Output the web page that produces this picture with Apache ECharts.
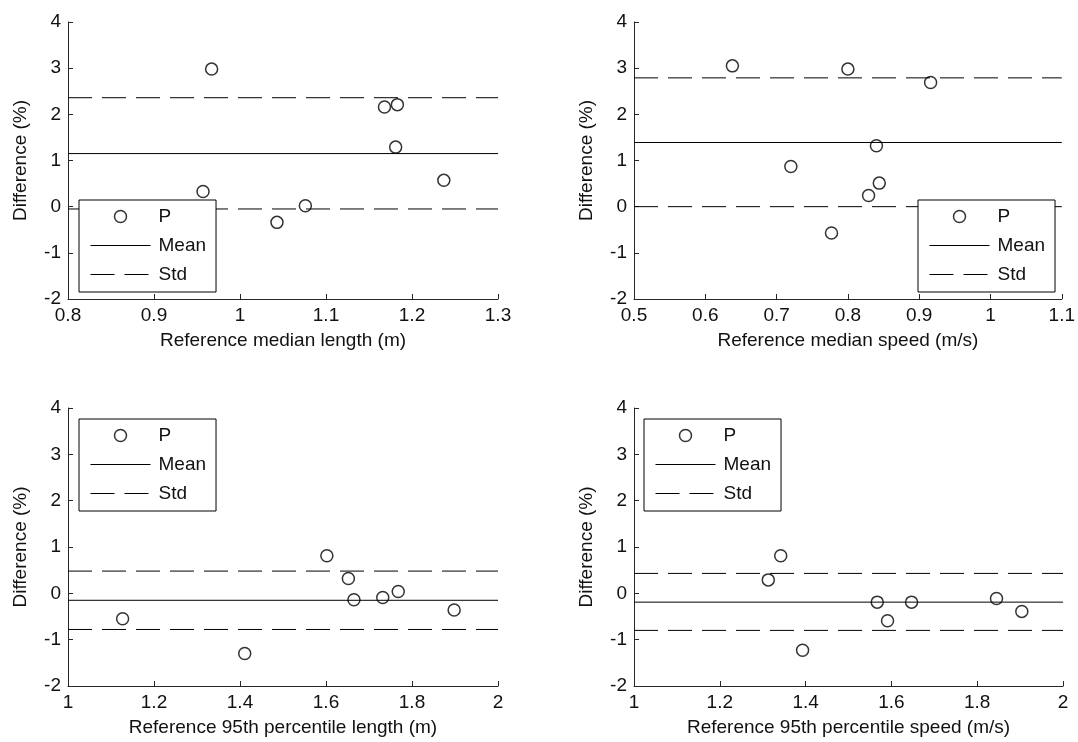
<!DOCTYPE html>
<html><head><meta charset="utf-8">
<script src="https://cdn.jsdelivr.net/npm/echarts@6/dist/echarts.min.js"></script>
<style>html,body{margin:0;padding:0;background:#fff}#c{width:1078px;height:742px}</style>
</head><body><div id="c"></div>
<script>
// ---- data ----
const xTitles = ['Reference median length (m)', 'Reference median speed (m/s)',
                 'Reference 95th percentile length (m)', 'Reference 95th percentile speed (m/s)'];
const yTitle = 'Difference (%)';
const xRanges = [[0.8, 1.3, 0.1], [0.5, 1.1, 0.1], [1, 2, 0.2], [1, 2, 0.2]];
const yRange = [-2, 4, 1];
const legendNames = ['P', 'Mean', 'Std'];

const p1X = [0.967, 0.957, 1.043, 1.076, 1.168, 1.183, 1.181, 1.237];
const p1Y = [2.98, 0.33, -0.34, 0.02, 2.16, 2.21, 1.29, 0.57];
const p1Mean = 1.15;
const p1Std = [2.36, -0.05];

const p2X = [0.638, 0.800, 0.916, 0.840, 0.720, 0.844, 0.829, 0.777];
const p2Y = [3.05, 2.98, 2.69, 1.32, 0.87, 0.51, 0.24, -0.57];
const p2Mean = 1.39;
const p2Std = [2.79, 0.00];

const p3X = [1.127, 1.411, 1.602, 1.652, 1.665, 1.732, 1.768, 1.898];
const p3Y = [-0.55, -1.30, 0.81, 0.32, -0.14, -0.09, 0.04, -0.36];
const p3Mean = -0.15;
const p3Std = [0.48, -0.78];

const p4X = [1.313, 1.342, 1.393, 1.567, 1.591, 1.647, 1.845, 1.904];
const p4Y = [0.29, 0.81, -1.23, -0.19, -0.59, -0.19, -0.11, -0.39];
const p4Mean = -0.19;
const p4Std = [0.43, -0.80];

// ---- layout / style ----
const FONT = '"Liberation Sans", Arial, sans-serif';
const FS = 19;
const TXT = '#111';
const AX = '#262626';
const grids = [
  {left: 68, top: 22, width: 430, height: 277},
  {left: 634, top: 22, width: 429, height: 277},
  {left: 68, top: 408, width: 430, height: 278},
  {left: 634, top: 408, width: 429, height: 278}
];
const legendPos = [[79, 200], [918, 200], [79, 419], [644, 419]];
const DASH = [24, 10];
const MARK = {color: 'rgba(255,255,255,0)', borderColor: '#000', borderWidth: 1.5};
const NOSYM = {color: 'rgba(0,0,0,0)', borderColor: 'rgba(0,0,0,0)', borderWidth: 0, opacity: 0};

const panels = [
  [p1X, p1Y, p1Mean, p1Std],
  [p2X, p2Y, p2Mean, p2Std],
  [p3X, p3Y, p3Mean, p3Std],
  [p4X, p4Y, p4Mean, p4Std]
];

const axisCommon = {
  type: 'value',
  axisLine: {show: true, onZero: false, lineStyle: {color: AX, width: 1}},
  axisTick: {show: true, inside: true, length: 5, lineStyle: {color: AX, width: 1}},
  axisLabel: {color: TXT, fontSize: FS, fontFamily: FONT, margin: 7},
  splitLine: {show: false},
  nameLocation: 'middle',
  nameTextStyle: {color: TXT, fontSize: FS, fontFamily: FONT}
};

const xAxis = [], yAxis = [], series = [], legend = [];
panels.forEach((p, i) => {
  const [xs, ys, mean, std] = p;
  const [xmin, xmax, xint] = xRanges[i];
  xAxis.push(Object.assign({}, axisCommon, {
    gridIndex: i, min: xmin, max: xmax, interval: xint,
    name: xTitles[i], nameGap: 32
  }));
  yAxis.push(Object.assign({}, axisCommon, {
    gridIndex: i, min: yRange[0], max: yRange[1], interval: yRange[2],
    name: yTitle, nameGap: 38
  }));
  series.push({
    type: 'line', name: 'Mean', xAxisIndex: i, yAxisIndex: i,
    data: [[xmin, mean], [xmax, mean]], symbol: 'none', silent: true,
    color: '#000', lineStyle: {color: '#000', width: 1, type: 'solid'}, z: 2
  });
  std.forEach(s => series.push({
    type: 'line', name: 'Std', xAxisIndex: i, yAxisIndex: i,
    data: [[xmin, s], [xmax, s]], symbol: 'none', silent: true,
    color: '#000', lineStyle: {color: '#000', width: 1, type: DASH}, z: 2
  }));
  series.push({
    type: 'scatter', name: 'P', xAxisIndex: i, yAxisIndex: i,
    data: xs.map((x, k) => [x, ys[k]]), symbol: 'circle', symbolSize: 12,
    color: '#000', silent: true, itemStyle: MARK, z: 3
  });
  legend.push({
    left: legendPos[i][0], top: legendPos[i][1], orient: 'vertical',
    itemWidth: 60, itemHeight: 12, itemGap: 10,
    padding: [7, 10, 8, 11],
    borderColor: '#000', borderWidth: 1, backgroundColor: '#fff',
    selectedMode: false,
    textStyle: {color: TXT, fontSize: FS, fontFamily: FONT, padding: [0, 0, 0, 3]},
    data: [
      {name: legendNames[0], icon: 'circle', itemStyle: MARK},
      {name: legendNames[1], itemStyle: NOSYM,
       lineStyle: {color: '#000', width: 1, type: 'solid'}},
      {name: legendNames[2], itemStyle: NOSYM,
       lineStyle: {color: '#000', width: 1, type: DASH}}
    ]
  });
});

const chart = echarts.init(document.getElementById('c'), null, {renderer: 'canvas'});
chart.setOption({
  backgroundColor: '#fff',
  animation: false,
  grid: grids,
  xAxis: xAxis,
  yAxis: yAxis,
  legend: legend,
  series: series
});
</script></body></html>
